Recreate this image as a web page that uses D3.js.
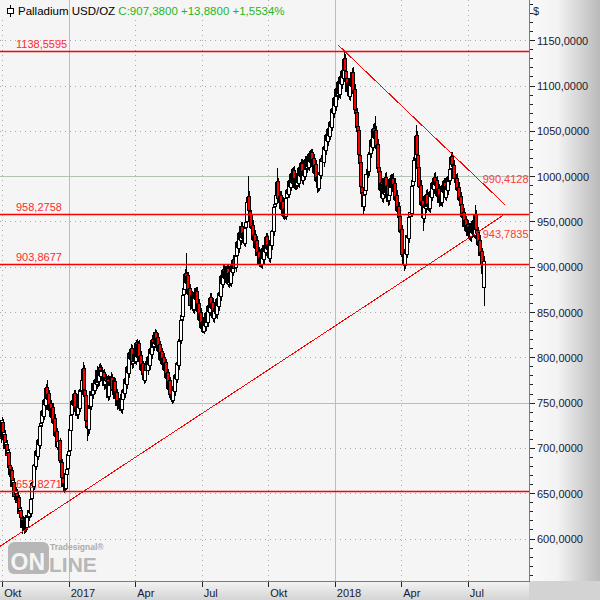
<!DOCTYPE html>
<html><head><meta charset="utf-8">
<script src="https://cdn.jsdelivr.net/npm/d3@7"></script>
<style>
body{margin:0;background:#fff}
svg{display:block}
text{font-family:"Liberation Sans",Arial,sans-serif}
</style>
</head><body>
<svg id="c" width="600" height="600"></svg>
<script>
// ---- DATA (daily bars, Palladium USD/OZ, from 2016-09-29, weekdays) ----
const opens=[
718,725,714,729,713,716,702,705,695,696,
682,670,676,660,663,650,651,643,646,631,
632,623,614,620,611,619,613,626,625,631,
629,645,663,659,683,681,698,692,710,704,
726,729,742,736,754,748,768,755,761,742,
750,735,746,728,734,714,719,702,709,686,
685,667,659,661,656,672,678,693,698,720,
738,753,748,761,741,747,738,760,745,766,
764,775,789,765,759,730,725,721,746,747,
762,760,771,765,777,771,786,774,790,780,
786,784,771,778,774,777,758,773,771,779,
765,767,774,757,762,749,752,748,755,743,
755,766,761,778,771,791,783,806,799,811,
794,798,805,797,817,801,816,796,803,787,
794,783,776,793,786,802,792,811,804,821,
813,816,829,814,823,808,815,798,807,793,
801,787,795,778,784,766,775,759,758,753,
769,763,782,777,795,792,819,820,843,846,
870,876,894,883,891,870,877,857,870,854,
873,865,874,852,861,842,851,833,841,830,
842,835,851,839,858,851,867,855,862,844,
852,856,848,866,857,873,868,891,882,898,
888,897,887,899,882,895,883,902,895,909,
900,913,929,921,939,930,946,932,939,927,
944,951,973,979,962,959,943,947,930,937,
921,930,913,918,904,911,903,921,909,923,
917,934,920,926,910,928,924,941,940,967,
971,981,995,975,980,964,973,957,965,957,
977,986,981,996,989,1004,993,1007,990,999,
991,1001,993,1011,1001,1015,996,1007,1001,1019,
1009,1021,1011,1024,1016,1027,1013,1020,1004,1014,
995,1001,987,1005,1002,1020,1016,1034,1029,1047,
1039,1054,1045,1061,1055,1076,1070,1088,1078,1098,
1090,1105,1091,1111,1102,1118,1109,1131,1117,1109,
1096,1104,1089,1108,1100,1116,1092,1097,1074,1071,
1056,1051,1024,1016,989,983,967,981,985,1004,
1006,1026,1026,1041,1033,1054,1043,1051,1032,1036,
1011,1006,985,994,976,993,981,1000,982,991,
974,980,998,988,999,984,993,974,980,962,
968,956,939,942,914,915,902,918,915,936,
932,956,960,991,995,1019,1021,1046,1024,1011,
989,991,969,974,954,970,965,981,967,971,
965,984,978,994,986,1000,991,996,979,987,
973,981,972,991,983,994,978,991,985,1001,
996,1009,1023,1013,1013,997,999,985,989,974,
979,970,955,961,945,953,940,948,935,945,
933,947,938,951,936,959,941,939,925,930,
913,918,903,878];
const highs=[
731,728,735,732,722,720,712,709,702,699,
685,681,679,668,667,657,655,652,649,637,
635,627,625,624,624,623,631,630,636,637,
648,666,668,686,689,701,702,713,714,729,
733,745,746,757,758,771,775,764,765,753,
753,749,750,737,738,722,723,712,712,690,
688,671,665,666,677,681,698,702,726,742,
757,758,765,764,751,750,764,764,770,771,
781,795,792,770,763,735,730,750,753,768,
767,776,775,781,781,791,790,793,794,792,
790,788,783,782,780,781,778,777,784,782,
770,779,778,767,766,757,756,760,759,760,
770,770,782,782,795,795,810,810,815,814,
801,808,809,820,821,819,820,806,807,797,
797,787,796,797,805,806,815,815,825,825,
822,832,831,826,827,818,819,810,811,804,
805,798,799,787,788,778,779,763,762,772,
774,786,787,799,800,823,827,847,853,874,
884,898,916,895,895,881,881,874,873,877,
877,878,878,864,865,854,855,844,845,846,
847,855,855,862,863,871,871,866,866,858,
860,860,870,870,877,878,895,896,902,902,
901,901,903,903,899,899,906,906,913,913,
917,933,934,943,944,950,950,943,943,948,
955,977,1001,984,967,963,951,952,940,941,
934,934,922,922,914,915,925,925,927,927,
938,938,930,930,932,933,945,946,971,975,
990,1009,999,984,984,977,977,969,969,981,
990,991,1000,1001,1008,1009,1011,1012,1003,1004,
1005,1006,1015,1016,1019,1019,1011,1012,1023,1023,
1025,1026,1028,1029,1031,1031,1024,1025,1018,1018,
1005,1005,1009,1010,1024,1025,1038,1039,1051,1051,
1058,1059,1065,1066,1080,1081,1092,1093,1102,1103,
1109,1110,1115,1116,1122,1123,1138.5595,1135,1122,1113,
1108,1109,1112,1113,1120,1121,1101,1102,1079,1076,
1061,1056,1029,1021,994,988,985,991,1008,1010,
1030,1032,1045,1046,1058,1059,1067,1056,1040,1041,
1016,1011,998,999,997,998,1004,1005,995,996,
986,1002,1003,1003,1004,997,998,984,985,972,
972,960,946,947,919,920,922,923,940,941,
960,966,995,1001,1023,1027,1057,1050,1029,1016,
995,996,978,979,974,975,985,986,975,976,
988,989,998,999,1004,1005,1000,1001,991,992,
985,986,995,996,998,999,995,996,1005,1006,
1013,1027,1027,1018,1018,1003,1004,993,994,983,
983,974,965,965,957,957,952,952,949,949,
951,952,955,956,969,963,946,944,934,935,
922,921,906,912];
const lows=[
712,707,710,708,709,695,698,688,691,675,
668,666,654,656,644,646,637,639,625,627,
619,607,610,607,608,609,611,619,621,624,
625,641,656,655,678,677,689,688,701,700,
721,725,733,732,745,744,752,751,739,738,
732,731,725,724,711,710,699,698,683,680,
664,654,652,653,655,668,675,689,694,716,
734,744,744,737,737,734,734,741,741,758,
760,771,762,753,727,709,715,717,741,743,
754,756,760,761,767,767,769,770,777,776,
781,766,767,771,770,753,754,766,767,760,
761,763,752,753,744,745,743,744,740,739,
751,758,757,768,767,780,779,796,795,789,
790,794,794,793,798,797,793,792,784,783,
778,772,773,783,782,789,788,801,800,808,
809,812,811,810,805,804,795,794,790,789,
784,783,775,774,763,762,756,752,750,751,
760,759,774,773,788,788,814,816,839,842,
866,872,880,879,867,866,854,853,851,850,
862,861,849,848,839,838,830,829,828,827,
832,831,836,835,848,847,852,851,841,840,
848,845,844,854,853,865,864,879,878,885,
884,884,883,879,878,880,879,892,891,895,
896,909,918,917,927,926,929,928,924,923,
939,947,968,959,954,940,939,927,926,918,
917,910,909,901,901,900,899,906,905,914,
913,917,916,907,906,920,920,936,936,962,
967,977,972,971,961,960,954,953,954,953,
973,978,977,986,985,990,989,987,986,986,
987,990,989,998,997,993,992,998,997,1004,
1005,1008,1007,1013,1012,1010,1009,1001,1000,992,
983,984,985,998,998,1012,1012,1025,1025,1036,
1035,1041,1041,1051,1051,1066,1066,1075,1074,1085,
1086,1088,1087,1099,1098,1106,1105,1114,1104,1091,
1092,1086,1085,1097,1096,1089,1088,1071,1066,1051,
1044,1021,1011,986,978,960,963,976,981,1000,
1002,1021,1022,1030,1029,1040,1039,1029,1028,1006,
1001,982,981,973,972,978,977,979,978,969,
970,976,985,984,981,980,971,970,959,958,
951,936,935,911,908,897,899,911,911,928,
928,952,956,987,991,1015,1017,1021,1006,986,
985,966,965,941,950,961,961,964,963,962,
961,975,974,983,982,988,987,976,975,968,
969,969,968,980,979,975,974,982,981,991,
992,1005,1010,1008,994,993,982,981,971,970,
965,952,951,942,941,937,936,932,931,930,
929,935,934,933,932,938,934,922,921,910,
908,898,885,858];
const closes=[
727,712,731,712,718,700,707,693,698,680,
672,677,658,665,648,653,641,648,629,634,
624,613,621,610,620,612,627,624,632,630,
644,662,660,682,682,697,693,709,705,725,
728,741,737,753,749,767,756,760,743,749,
736,745,729,733,715,718,703,708,687,686,
668,658,662,657,673,677,694,697,721,737,
752,749,760,742,746,739,759,746,765,763,
776,788,766,758,731,724,722,745,748,763,
759,772,764,776,772,787,773,789,781,787,
785,770,779,775,776,757,774,770,780,764,
766,775,756,763,748,753,747,756,742,756,
765,762,777,772,790,784,805,800,810,793,
797,804,798,816,802,815,797,802,788,793,
782,777,792,787,801,793,810,805,820,812,
817,828,815,822,809,814,799,806,794,800,
788,794,779,783,767,774,760,757,754,768,
764,781,778,794,793,818,821,842,847,869,
877,893,884,890,871,876,858,869,855,872,
866,873,853,860,843,850,834,840,831,841,
836,850,840,857,852,866,856,861,845,853,
855,849,865,858,872,869,890,883,897,889,
896,888,898,883,894,884,901,896,908,899,
912,928,922,938,931,945,933,938,928,943,
950,972,978,963,958,944,946,931,936,922,
929,914,917,905,910,904,920,910,922,918,
933,921,925,911,927,925,940,941,966,970,
980,994,976,979,965,972,958,964,958,976,
985,982,995,990,1003,994,1006,991,998,990,
1000,994,1010,1002,1014,997,1006,1002,1018,1008,
1020,1012,1023,1017,1026,1014,1019,1005,1013,996,
1000,988,1004,1003,1019,1017,1033,1030,1046,1040,
1053,1046,1060,1056,1075,1071,1087,1079,1097,1089,
1104,1092,1110,1103,1117,1110,1130,1118,1108,1095,
1103,1090,1107,1101,1115,1093,1096,1075,1070,1055,
1050,1025,1015,990,982,968,980,986,1003,1005,
1025,1027,1040,1034,1053,1044,1050,1033,1035,1010,
1005,986,993,977,992,982,999,983,990,973,
981,997,989,998,985,992,975,979,963,967,
955,940,941,915,914,903,917,916,935,933,
955,961,990,996,1018,1022,1045,1025,1010,990,
990,970,973,955,969,966,980,968,970,966,
983,979,993,987,999,992,995,980,986,972,
980,973,990,984,993,979,990,986,1000,995,
1008,1022,1014,1012,998,998,986,988,975,978,
969,956,960,946,952,941,947,936,944,934,
946,939,950,937,958,942,938,926,929,914,
917,903,893.5,907.38];
const firstDate=[2016,8,29];            // first bar (year, month0, day)
const monthLabels=["Jan","Feb","Mär","Apr","Mai","Jun","Jul","Aug","Sep","Okt","Nov","Dez"];
const yTickValues=d3.range(600,1151,50);
const levels=[1138.5595,958.2758,903.8677,652.8271];
const trendDown={a:[336,1138.5595],b:[473,990.4128],from:330,to:493};
const trendUp={a:[0,592.4],b:[473,943.7835],from:-2,to:491};
const titleText="Palladium USD/OZ";
const quoteText="C:907,3800 +13,8800 +1,5534%";

// ---- LAYOUT ----
const W=600,H=600,PR=529,PB=581;
const svg=d3.select("#c");
const n=closes.length;
const x=d3.scaleLinear().domain([2,457]).range([2.7,468.3]);
const y=d3.scaleLinear().domain([600,1150]).range([539,40.7]);
const fmt=v=>d3.format(".4f")(v).replace(".",",");
const px=v=>Math.floor(v)+0.5;

const defs=svg.append("defs");
const gR=defs.append("linearGradient").attr("id","gR").attr("x1",0).attr("x2",1).attr("y1",0).attr("y2",0);
[["0%","#fafafa"],["40%","#f3f3f3"],["100%","#bababa"]].forEach(s=>gR.append("stop").attr("offset",s[0]).attr("stop-color",s[1]));
const gB=defs.append("linearGradient").attr("id","gB").attr("x1",0).attr("x2",0).attr("y1",0).attr("y2",1);
[["0%","#f4f4f4"],["100%","#d4d4d4"]].forEach(s=>gB.append("stop").attr("offset",s[0]).attr("stop-color",s[1]));
defs.append("clipPath").attr("id","clip").append("rect").attr("width",PR).attr("height",PB);

svg.append("rect").attr("width",PR).attr("height",PB).attr("fill","#f5f5f5");
svg.append("rect").attr("x",PR).attr("width",W-PR).attr("height",PB).attr("fill","url(#gR)");
svg.append("rect").attr("y",PB).attr("width",PR).attr("height",H-PB).attr("fill","url(#gB)");
svg.append("rect").attr("x",PR).attr("y",PB).attr("width",W-PR).attr("height",H-PB).attr("fill","#d3d3d3");

// dates (weekdays)
const dates=[];
{let d=new Date(firstDate[0],firstDate[1],firstDate[2]);
 while(dates.length<n){ if(d.getDay()!==0&&d.getDay()!==6) dates.push(new Date(d)); d.setDate(d.getDate()+1);} }
const qTicks=[];
for(let i=1;i<n;i++){const m=dates[i].getMonth(); if(m!==dates[i-1].getMonth()&&m%3===0) qTicks.push({i,m,label:m===0?String(dates[i].getFullYear()):monthLabels[m]});}

const plot=svg.append("g").attr("clip-path","url(#clip)");
// dotted grid
const gridG=plot.append("g").attr("shape-rendering","crispEdges");
gridG.selectAll(".vd").data(qTicks.filter(t=>t.m!==0)).join("line").attr("class","vd")
  .attr("x1",t=>px(x(t.i))).attr("x2",t=>px(x(t.i))).attr("y1",0).attr("y2",PB)
  .attr("stroke","#a9a9a9").attr("stroke-dasharray","1,4");
gridG.selectAll(".hd").data(yTickValues.filter(v=>v%250!==0)).join("line").attr("class","hd")
  .attr("x1",0).attr("x2",PR).attr("y1",v=>px(y(v))).attr("y2",v=>px(y(v)))
  .attr("stroke","#a9a9a9").attr("stroke-dasharray","1,4");
// title area cover
plot.append("rect").attr("width",268).attr("height",19).attr("fill","#f5f5f5");
// solid grid
const sg=plot.append("g").attr("shape-rendering","crispEdges");
sg.selectAll(".vs").data(qTicks.filter(t=>t.m===0)).join("line").attr("class","vs")
  .attr("x1",t=>px(x(t.i))).attr("x2",t=>px(x(t.i))).attr("y1",0).attr("y2",PB)
  .attr("stroke","#b3c2b3");
sg.selectAll(".hs").data(yTickValues.filter(v=>v%250===0)).join("line").attr("class","hs")
  .attr("x1",0).attr("x2",PR).attr("y1",v=>px(y(v))).attr("y2",v=>px(y(v)))
  .attr("stroke","#b3c2b3");

// watermark logo
const logo=svg.append("g").attr("fill","#b7b7b7");
logo.append("rect").attr("x",8).attr("y",542).attr("width",41).attr("height",32).attr("rx",6);
logo.append("text").attr("x",10.5).attr("y",570).attr("font-size",23).attr("font-weight","bold").attr("fill","#f5f5f5").text("ON");
logo.append("text").attr("x",49).attr("y",571.5).attr("font-size",21).attr("font-weight","bold").text("LINE");
logo.append("text").attr("x",50).attr("y",550).attr("font-size",8.5).attr("font-weight","bold").attr("fill","#ababab").text("Tradesignal®");

// candles
const bars=d3.range(n).map(i=>({i,o:opens[i],h:highs[i],l:lows[i],c:closes[i]}));
const cg=plot.append("g").attr("shape-rendering","crispEdges");
const bg=cg.selectAll("g").data(bars).join("g");
bg.append("line")
  .attr("x1",d=>px(x(d.i))).attr("x2",d=>px(x(d.i)))
  .attr("y1",d=>Math.round(y(d.h))).attr("y2",d=>Math.round(y(d.l))+1)
  .attr("stroke","#000");
bg.append("rect")
  .attr("x",d=>px(x(d.i))-2).attr("width",3)
  .attr("y",d=>Math.round(y(Math.max(d.o,d.c)))+0.5)
  .attr("height",d=>Math.max(1,Math.round(y(Math.min(d.o,d.c)))-Math.round(y(Math.max(d.o,d.c)))))
  .attr("fill",d=>d.c>=d.o?"#ffffff":"#ff0000")
  .attr("stroke","#000").attr("stroke-width",1);

// horizontal levels
const lv=plot.append("g");
lv.selectAll("rect").data(levels).join("rect")
  .attr("x",0).attr("width",PR).attr("y",v=>Math.round(y(v))-0.25).attr("height",1.5)
  .attr("fill","#ff0000");
lv.selectAll("text").data(levels).join("text")
  .attr("x",16).attr("y",v=>Math.round(y(v))-3)
  .attr("font-size",11).attr("fill","#ff2a2a").text(fmt);

// trendlines
function tl(t){const s=(t.b[1]-t.a[1])/(t.b[0]-t.a[0]); return i=>t.a[1]+(i-t.a[0])*s;}
[trendDown,trendUp].forEach(t=>{
  const f=tl(t);
  plot.append("line").attr("shape-rendering","crispEdges")
    .attr("x1",x(t.from)).attr("y1",y(f(t.from))).attr("x2",x(t.to)).attr("y2",y(f(t.to)))
    .attr("stroke","#ff0000").attr("stroke-width",1);
});
const lastX=x(n-1);
plot.append("text").attr("x",lastX-2).attr("y",y(trendDown.b[1])-2).attr("font-size",11).attr("fill","#ff3a3a").text(fmt(trendDown.b[1]));
plot.append("text").attr("x",lastX-2).attr("y",y(trendUp.b[1])+10).attr("font-size",11).attr("fill","#ff3a3a").text(fmt(trendUp.b[1]));

// borders
svg.append("line").attr("shape-rendering","crispEdges").attr("x1",PR+0.5).attr("x2",PR+0.5).attr("y1",0).attr("y2",PB+1).attr("stroke","#7a7a7a");
svg.append("line").attr("shape-rendering","crispEdges").attr("x1",0).attr("x2",PR+1).attr("y1",PB+0.5).attr("y2",PB+0.5).attr("stroke","#7a7a7a");

// right axis
const ax=svg.append("g").attr("shape-rendering","crispEdges");
const minor=d3.range(560,1200,10).filter(v=>v%50!==0&&y(v)>2&&y(v)<PB-2);
ax.selectAll(".mi").data(minor).join("line").attr("class","mi")
  .attr("x1",PR+1).attr("x2",PR+4).attr("y1",v=>px(y(v))).attr("y2",v=>px(y(v))).attr("stroke","#222");
ax.selectAll(".ma").data(yTickValues).join("line").attr("class","ma")
  .attr("x1",PR+1).attr("x2",PR+6).attr("y1",v=>px(y(v))).attr("y2",v=>px(y(v))).attr("stroke","#222");
svg.append("g").selectAll("text").data(yTickValues).join("text")
  .attr("x",537).attr("y",v=>Math.round(y(v))+4).attr("font-size",11).attr("fill","#1a1a30").text(fmt);
svg.append("text").attr("x",533).attr("y",15).attr("font-size",11).attr("fill","#1a1a30").text("$");

// bottom axis
const bx=svg.append("g");
bx.selectAll("line").data(qTicks).join("line").attr("shape-rendering","crispEdges")
  .attr("x1",t=>px(x(t.i))).attr("x2",t=>px(x(t.i))).attr("y1",PB+1).attr("y2",PB+6).attr("stroke","#222");
bx.selectAll("text").data(qTicks).join("text")
  .attr("x",t=>x(t.i)+1.5).attr("y",597).attr("font-size",11).attr("fill","#1a1a30").text(t=>t.label);

// title
const tg=svg.append("g");
tg.append("line").attr("shape-rendering","crispEdges").attr("x1",10.5).attr("x2",10.5).attr("y1",5).attr("y2",17).attr("stroke","#000");
tg.append("rect").attr("shape-rendering","crispEdges").attr("x",7.5).attr("y",8.5).attr("width",6).attr("height",5).attr("fill","#fff").attr("stroke","#000");
const tt=tg.append("text").attr("x",18).attr("y",15).attr("font-size",11.5);
tt.append("tspan").attr("fill","#000").text(titleText+" ");
tt.append("tspan").attr("fill","#1fb51f").text(quoteText);
</script>
</body></html>
